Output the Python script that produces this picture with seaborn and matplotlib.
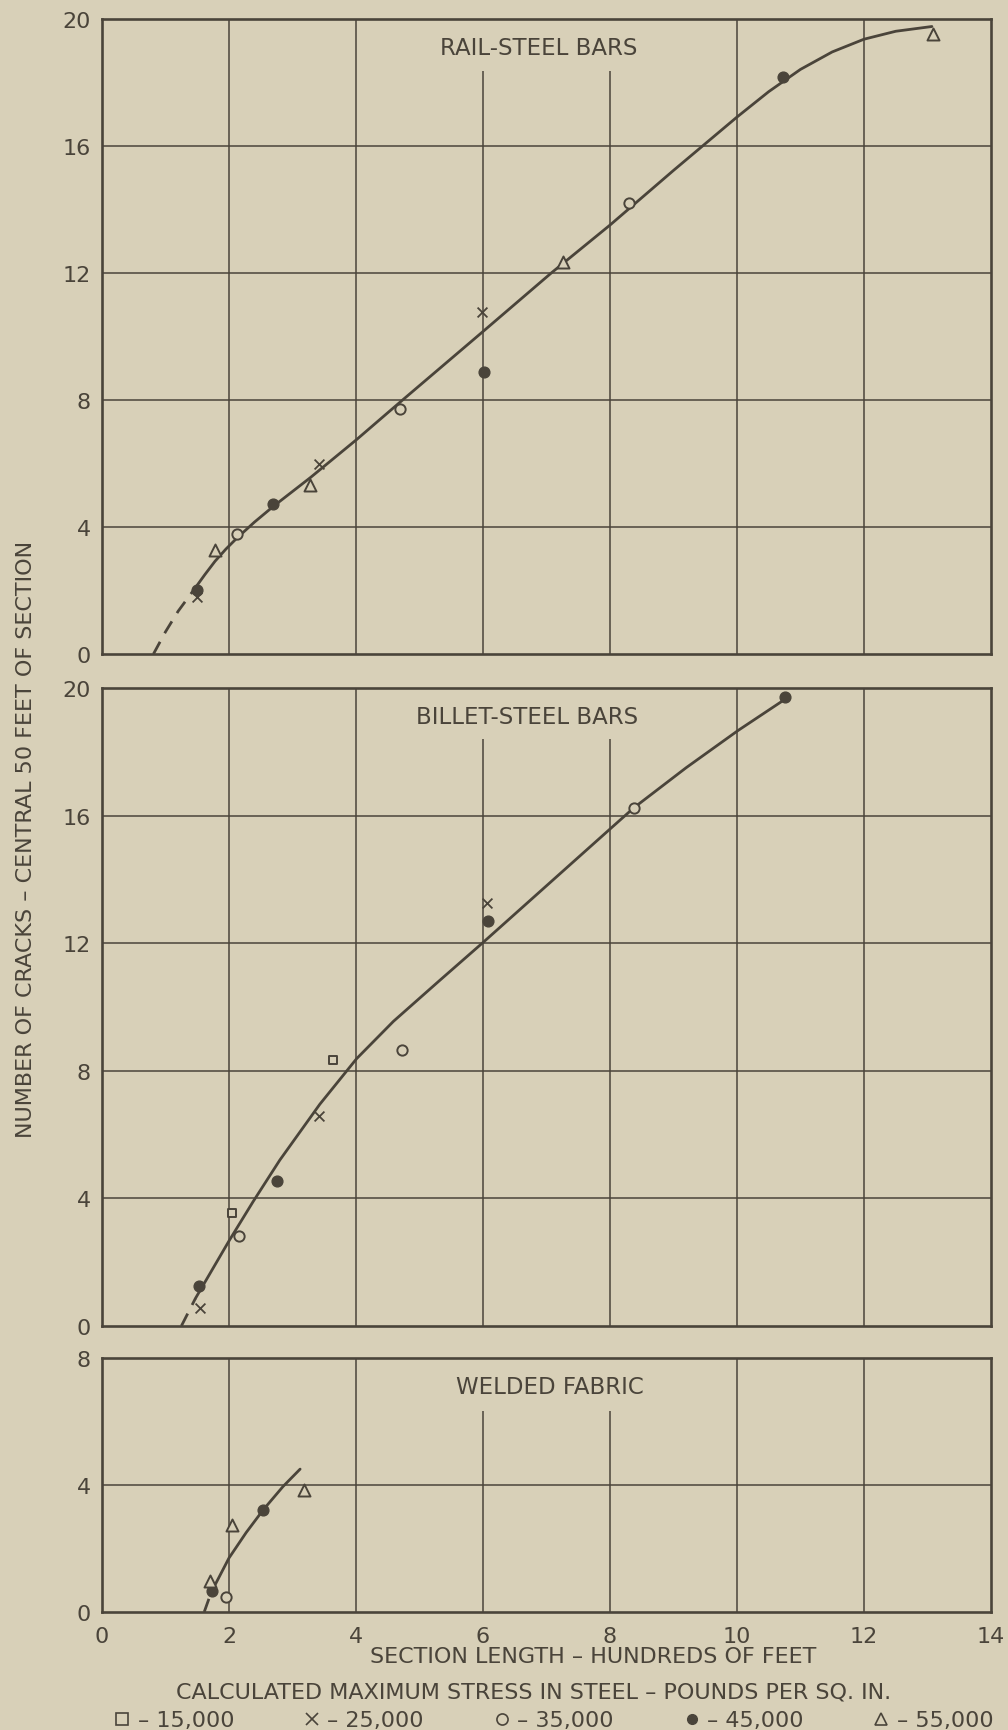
import numpy as np
import pandas as pd
import matplotlib
matplotlib.use("Agg")
import matplotlib.pyplot as plt
import seaborn as sns
from matplotlib.lines import Line2D

# readings taken off the figure (x = hundreds of feet, y = number of cracks)
rail_x = [1.50, 1.49, 1.78, 2.12, 2.70, 3.28, 3.41, 4.69, 5.98, 6.02, 7.26, 8.30, 10.72, 13.08]
rail_y = [1.81, 2.00, 3.27, 3.79, 4.72, 5.31, 5.97, 7.70, 10.78, 8.89, 12.33, 14.18, 18.16, 19.52]
rail_stress = [25000, 45000, 55000, 35000, 45000, 55000, 25000, 35000, 25000, 45000, 55000, 35000, 45000, 55000]

billet_x = [1.54, 1.52, 2.04, 2.15, 2.75, 3.42, 3.64, 4.72, 6.06, 6.08, 8.38, 10.76]
billet_y = [0.55, 1.24, 3.55, 2.81, 4.53, 6.59, 8.35, 8.66, 13.25, 12.69, 16.25, 19.72]
billet_stress = [25000, 45000, 15000, 35000, 45000, 25000, 15000, 35000, 25000, 45000, 35000, 45000]

fabric_x = [1.70, 1.73, 1.95, 2.05, 2.54, 3.18]
fabric_y = [0.99, 0.67, 0.46, 2.74, 3.22, 3.85]
fabric_stress = [55000, 45000, 35000, 55000, 45000, 55000]

# hand drawn curves, read point by point
rail_fit_x = [1.49, 1.62, 1.78, 1.95, 2.12, 2.40, 2.70, 3.28, 4.01, 4.69, 6.0, 7.08, 8.0, 9.0,
              10.0, 10.5, 11.0, 11.5, 12.0, 12.5, 13.07]
rail_fit_y = [2.14, 2.50, 2.92, 3.30, 3.64, 4.15, 4.65, 5.55, 6.75, 7.92, 10.15, 12.0, 13.5, 15.22,
              16.9, 17.7, 18.4, 18.95, 19.35, 19.6, 19.75]
rail_dash_x = [0.81, 1.0, 1.2, 1.49]
rail_dash_y = [0.0, 0.70, 1.35, 2.14]

billet_fit_x = [1.47, 2.01, 2.38, 2.80, 3.43, 4.01, 4.59, 5.3, 6.0, 6.27, 8.03, 8.38, 9.2, 10.02, 10.76]
billet_fit_y = [0.86, 2.70, 3.90, 5.20, 6.95, 8.38, 9.55, 10.8, 12.02, 12.5, 15.63, 16.25, 17.5, 18.67, 19.65]
billet_dash_x = [1.25, 1.47]
billet_dash_y = [0.0, 0.86]

fabric_fit_x = [1.72, 2.0, 2.27, 2.54, 2.85, 3.12]
fabric_fit_y = [0.62, 1.70, 2.50, 3.22, 3.95, 4.50]
fabric_dash_x = [1.61, 1.72]
fabric_dash_y = [0.0, 0.62]

stress_levels = [15000, 25000, 35000, 45000, 55000]
stress_labels = ["– 15,000", "– 25,000", "– 35,000", "– 45,000", "– 55,000"]

PAPER = "#d8d0b8"
INK = "#4a443a"

sns.set_theme(style="white")
plt.rcParams["font.family"] = ["DejaVu Sans"]
plt.rcParams["text.color"] = INK

markers = {15000: "s", 25000: "x", 35000: "o", 45000: "o", 55000: "^"}
msize = {15000: 40, 25000: 50, 35000: 55, 45000: 60, 55000: 75}


def marker_style(level):
    if level == 25000:
        return dict(color=INK, linewidth=1.3)
    if level == 45000:
        return dict(color=INK, edgecolor=INK, linewidth=1.0)
    return dict(color=INK, facecolor=PAPER, edgecolor=INK, linewidth=1.4)


fig = plt.figure(figsize=(10.08, 17.31), dpi=100, facecolor=PAPER)
left, width = 0.1012, 0.8819
ax_rail = fig.add_axes([left, 0.6216, width, 0.3671])
ax_billet = fig.add_axes([left, 0.2334, width, 0.3686])
ax_fabric = fig.add_axes([left, 0.0682, width, 0.1467])


def draw_panel(ax, xs, ys, stress, fit_x, fit_y, dash_x, dash_y, title, title_pos, ymax, gap_top, show_x):
    ax.set_facecolor(PAPER)
    ax.set_xlim(0, 14)
    ax.set_ylim(0, ymax)

    # grid, the 6 and 8 lines stop under the title
    for gx in [2, 4, 6, 8, 10, 12]:
        top = gap_top if gx in (6, 8) else ymax
        ax.vlines(gx, 0, top, color=INK, lw=1.1, zorder=1)
    for gy in range(4, ymax, 4):
        ax.hlines(gy, 0, 14, color=INK, lw=1.1, zorder=1)

    sns.lineplot(x=dash_x, y=dash_y, ax=ax, color=INK, lw=2.0, sort=False,
                 estimator=None, linestyle=(0, (5, 3.5)), zorder=3)
    sns.lineplot(x=fit_x, y=fit_y, ax=ax, color=INK, lw=2.0, sort=False,
                 estimator=None, zorder=3)

    df = pd.DataFrame({"x": xs, "y": ys, "stress": stress})
    for level in stress_levels:
        sub = df[df["stress"] == level]
        if sub.empty:
            continue
        sns.scatterplot(data=sub, x="x", y="y", ax=ax, marker=markers[level],
                        s=msize[level], zorder=4, legend=False, **marker_style(level))

    ax.text(title_pos[0], title_pos[1], title, ha="center", va="center",
            fontsize=16.5, color=INK)

    ax.set_yticks(range(0, ymax + 1, 4))
    ax.set_xticks(range(0, 15, 2))
    if not show_x:
        ax.set_xticklabels([])
    ax.tick_params(axis="both", length=0, labelsize=16, labelcolor=INK)
    ax.tick_params(axis="y", pad=8)
    ax.tick_params(axis="x", pad=10)
    ax.set_xlabel("")
    ax.set_ylabel("")
    for sp in ax.spines.values():
        sp.set_visible(True)
        sp.set_color(INK)
        sp.set_linewidth(1.9)


draw_panel(ax_rail, rail_x, rail_y, rail_stress, rail_fit_x, rail_fit_y, rail_dash_x, rail_dash_y,
           "RAIL-STEEL BARS", (6.87, 19.09), 20, 18.35, False)
draw_panel(ax_billet, billet_x, billet_y, billet_stress, billet_fit_x, billet_fit_y, billet_dash_x, billet_dash_y,
           "BILLET-STEEL BARS", (6.69, 19.09), 20, 18.39, False)
draw_panel(ax_fabric, fabric_x, fabric_y, fabric_stress, fabric_fit_x, fabric_fit_y, fabric_dash_x, fabric_dash_y,
           "WELDED FABRIC", (7.05, 7.11), 8, 6.34, True)

ax_fabric.set_xlabel("SECTION LENGTH – HUNDREDS OF FEET", fontsize=16, color=INK)
ax_fabric.xaxis.set_label_coords(0.552, -0.135)

fig.text(0.026, 0.515, "NUMBER OF CRACKS – CENTRAL 50 FEET OF SECTION", rotation=90,
         ha="center", va="center", fontsize=16, color=INK)
fig.text(0.529, 0.022, "CALCULATED MAXIMUM STRESS IN STEEL – POUNDS PER SQ. IN.",
         ha="center", va="center", fontsize=16, color=INK)

handles = []
for level in stress_levels:
    mk = markers[level]
    if level == 25000:
        h = Line2D([], [], ls="none", marker=mk, color=INK, markersize=8, markeredgewidth=1.2)
    elif level == 45000:
        h = Line2D([], [], ls="none", marker=mk, color=INK, markersize=7)
    else:
        h = Line2D([], [], ls="none", marker=mk, markerfacecolor="none", markeredgecolor=INK,
                   markersize=8, markeredgewidth=1.2)
    handles.append(h)

fig.legend(handles, stress_labels, ncol=5, loc="center", bbox_to_anchor=(0.549, 0.0055),
           frameon=False, fontsize=16, handlelength=0.8, handletextpad=0.3,
           columnspacing=3.1, borderpad=0, labelcolor=INK)

fig.savefig("out.png", dpi=100, facecolor=PAPER)
